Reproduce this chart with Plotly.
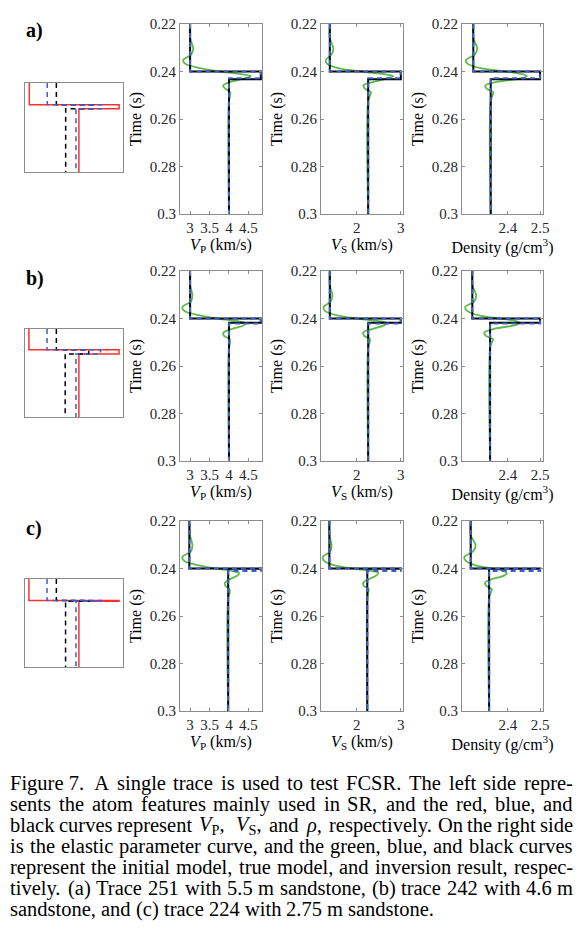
import re
import plotly.graph_objects as go

W, H = 588, 931

# ---- tick values / labels ----
time_ticks = [0.22, 0.24, 0.26, 0.28, 0.3]
time_labels = ["0.22", "0.24", "0.26", "0.28", "0.3"]
vp_ticks = [3, 3.5, 4, 4.5]
vp_labels = ["3", "3.5", "4", "4.5"]
vs_ticks = [2, 3]
vs_labels = ["2", "3"]
rho_ticks = [2.4, 2.5]
rho_labels = ["2.4", "2.5"]

row_labels = ["a)", "b)", "c)"]

# ---- true model (blue) and inversion result (black): thin sandstone layer ----
layer_top = 0.24
true_bottom = [0.2428, 0.2421, 0.2411]
inv_bottom = [0.2433, 0.2418, 0.2401]
vp_upper = [3.0, 3.0, 2.98]
vp_peak = [4.82, 4.82, 4.82]
vp_lower = [4.0, 4.0, 3.98]
vs_upper = [1.39, 1.39, 1.38]
vs_peak = [3.0, 3.0, 3.0]
vs_lower = [2.26, 2.26, 2.24]
rho_upper = [2.293, 2.29, 2.285]
rho_peak = [2.5, 2.5, 2.5]
rho_lower = [2.347, 2.345, 2.342]

# ---- initial model (green) ----
green_t = [0.22, 0.226, 0.2302, 0.2328, 0.2352, 0.2368, 0.2387, 0.2401, 0.2411,
           0.2419, 0.2429, 0.2443, 0.2459, 0.2473, 0.2487, 0.2502, 0.2525, 0.3]
green_vp = [
    [3.0, 3.0, 3.08, 3.03, 2.82, 2.88, 3.29, 3.80, 4.31, 4.56, 4.40, 4.06, 3.85, 3.91, 4.03, 4.03, 4.0, 4.0],
    [3.0, 3.0, 3.06, 3.02, 2.80, 2.85, 3.25, 3.75, 4.22, 4.42, 4.38, 4.10, 3.86, 3.87, 4.02, 4.03, 4.0, 4.0],
    [3.0, 3.0, 3.06, 3.02, 2.80, 2.85, 3.22, 3.70, 4.10, 4.26, 4.22, 4.05, 3.90, 3.91, 4.01, 4.02, 3.98, 3.98],
]
green_vs = [
    [1.39, 1.39, 1.47, 1.43, 1.30, 1.33, 1.60, 2.15, 2.62, 2.83, 2.70, 2.40, 2.15, 2.19, 2.32, 2.30, 2.26, 2.26],
    [1.39, 1.39, 1.45, 1.41, 1.25, 1.28, 1.55, 2.05, 2.50, 2.68, 2.62, 2.38, 2.15, 2.17, 2.30, 2.29, 2.26, 2.26],
    [1.38, 1.38, 1.43, 1.40, 1.23, 1.26, 1.50, 1.95, 2.35, 2.49, 2.45, 2.30, 2.15, 2.16, 2.27, 2.26, 2.24, 2.24],
]
green_rho = [
    [2.293, 2.293, 2.305, 2.298, 2.270, 2.276, 2.32, 2.40, 2.445, 2.459, 2.44, 2.37, 2.33, 2.335, 2.355, 2.352, 2.347, 2.347],
    [2.29, 2.29, 2.302, 2.296, 2.268, 2.274, 2.31, 2.38, 2.425, 2.438, 2.42, 2.36, 2.327, 2.332, 2.354, 2.35, 2.345, 2.345],
    [2.285, 2.285, 2.30, 2.292, 2.265, 2.27, 2.30, 2.355, 2.39, 2.397, 2.39, 2.355, 2.33, 2.333, 2.35, 2.347, 2.342, 2.342],
]

# ---- atom features (normalised units, 0..100) ----
atom_top = [24.3, 23.7, 24.4]
atom_bottom = [28.8, 28.3, 25.4]
atom_vp = [[4.4, 96, 55], [4, 96, 55], [4, 96, 55]]
atom_vs = [[22.7, 79, 52], [22.5, 77, 52], [22.5, 78, 52]]
atom_rho = [[32, 70, 41.5], [32, 65, 41], [32, 66, 41.4]]

caption_lines = [
    "Figure 7.  A single trace is used to test FCSR. The left side repre-",
    "sents the atom features mainly used in SR, and the red, blue, and",
    "black curves represent <i>V</i><sub>P</sub>, <i>V</i><sub>S</sub>, and <i>ρ</i>, respectively. On the right side",
    "is the elastic parameter curve, and the green, blue, and black curves",
    "represent the initial model, true model, and inversion result, respec-",
    "tively. (a) Trace 251 with 5.5 m sandstone, (b) trace 242 with 4.6 m",
    "sandstone, and (c) trace 224 with 2.75 m sandstone.",
]

# ---- layout in pixels ----
FONT = "Liberation Serif"
GREEN = "#5cbb48"
BLUE = "#3a5fcd"
RED = "#ff3030"
FRAME = "#8c8c8c"
TXT = "#262626"
CAP_SIZE = 20.5
CAP_LEFT, CAP_RIGHT = 10, 573

col_px = {"atom": (25, 123), "vp": (180, 262), "vs": (321, 403), "rho": (462, 543)}
row_px = [(24, 214), (271, 461), (521, 711)]
atom_row_px = [(83, 172), (329, 417), (579, 667)]

x_ranges = {"vp": [2.74, 4.85], "vs": [1.19, 3.05], "rho": [2.258, 2.509]}
x_ticks = {"vp": (vp_ticks, vp_labels), "vs": (vs_ticks, vs_labels), "rho": (rho_ticks, rho_labels)}
x_titles = {"vp": "<i>V</i><sub>P</sub> (km/s)", "vs": "<i>V</i><sub>S</sub> (km/s)",
            "rho": "Density (g/cm<sup>3</sup>)"}

# Times-compatible advance widths (1/1000 em) for justifying the caption
_w = {" ": 250, ".": 250, ",": 250, "-": 333, "(": 333, ")": 333, "ρ": 500,
      "f": 333, "r": 333, "t": 278, "i": 278, "l": 278, "j": 278, "s": 389,
      "a": 444, "c": 444, "e": 444, "z": 444, "w": 722, "m": 778,
      "A": 722, "C": 667, "F": 556, "O": 722, "P": 556, "R": 667, "S": 556, "T": 611, "V": 611}
ITALIC_PAD = 300


def text_width(s, size):
    total = 0.0
    for m in re.finditer(r"<sub>(.*?)</sub>|<[^>]+>|([^<])", s):
        if m.group(1) is not None:
            total += sum(_w.get(ch, 500) for ch in m.group(1)) * 0.7
        elif m.group(2) is not None:
            total += _w.get(m.group(2), 500)
    if "<i>" in s:
        total += ITALIC_PAD  # italic overhang / subscript spacing
    return total * size / 1000.0


def step(top, bottom, upper, peak, lower, y0, y1):
    return [upper, upper, peak, peak, lower, lower], [y0, top, top, bottom, bottom, y1]


def xdom(c):
    a, b = col_px[c]
    return [a / W, b / W]


def ydom(p):
    a, b = p
    return [1 - b / H, 1 - a / H]


fig = go.Figure()
layout = {}
n = 0
for r in range(3):
    # atom panel
    n += 1
    xa, ya = f"x{n}", f"y{n}"
    key = "" if n == 1 else str(n)
    for vals, color, dash in [(atom_vp[r], RED, "solid"), (atom_rho[r], "black", "5px,4px"),
                              (atom_vs[r], BLUE, "5px,4px")]:
        xs, ys = step(atom_top[r], atom_bottom[r], vals[0], vals[1], vals[2], 0, 100)
        fig.add_trace(go.Scatter(x=xs, y=ys, mode="lines", xaxis=xa, yaxis=ya, showlegend=False,
                                 line=dict(color=color, width=1.5, dash=dash), hoverinfo="skip"))
    layout["xaxis" + key] = dict(domain=xdom("atom"), anchor=ya, range=[0, 100], showticklabels=False,
                                 ticks="", showgrid=False, zeroline=False, showline=True, mirror=True,
                                 linecolor=FRAME, linewidth=1, automargin=False)
    layout["yaxis" + key] = dict(domain=ydom(atom_row_px[r]), anchor=xa, range=[100, 0], showticklabels=False,
                                 ticks="", showgrid=False, zeroline=False, showline=True, mirror=True,
                                 linecolor=FRAME, linewidth=1, automargin=False)

    params = [("vp", green_vp[r], vp_upper[r], vp_peak[r], vp_lower[r]),
              ("vs", green_vs[r], vs_upper[r], vs_peak[r], vs_lower[r]),
              ("rho", green_rho[r], rho_upper[r], rho_peak[r], rho_lower[r])]
    for c, g, up, pk, lo in params:
        n += 1
        xa, ya = f"x{n}", f"y{n}"
        key = str(n)
        fig.add_trace(go.Scatter(x=g, y=green_t, mode="lines", xaxis=xa, yaxis=ya, showlegend=False,
                                 line=dict(color=GREEN, width=1.8, shape="spline", smoothing=1.0),
                                 hoverinfo="skip"))
        xs, ys = step(layer_top, inv_bottom[r], up, pk, lo, 0.22, 0.3)
        fig.add_trace(go.Scatter(x=xs, y=ys, mode="lines", xaxis=xa, yaxis=ya, showlegend=False,
                                 line=dict(color="black", width=2), hoverinfo="skip"))
        xs, ys = step(layer_top, true_bottom[r], up, pk, lo, 0.22, 0.3)
        fig.add_trace(go.Scatter(x=xs, y=ys, mode="lines", xaxis=xa, yaxis=ya, showlegend=False,
                                 line=dict(color=BLUE, width=2, dash="5px,4px"), hoverinfo="skip"))
        tv, tl = x_ticks[c]
        layout["xaxis" + key] = dict(domain=xdom(c), anchor=ya, range=x_ranges[c], tickvals=tv, ticktext=tl,
                                     ticks="inside", ticklen=3, tickcolor=FRAME, showgrid=False,
                                     zeroline=False, showline=True, mirror="allticks", linecolor=FRAME,
                                     linewidth=1, automargin=False,
                                     tickfont=dict(family=FONT, size=15, color=TXT),
                                     title=dict(text=x_titles[c], standoff=2,
                                                font=dict(family=FONT, size=16, color="black")))
        layout["yaxis" + key] = dict(domain=ydom(row_px[r]), anchor=xa, range=[0.3, 0.22],
                                     tickvals=time_ticks, ticktext=time_labels, ticks="inside", ticklen=3,
                                     tickcolor=FRAME, showgrid=False, zeroline=False, showline=True,
                                     mirror="allticks", linecolor=FRAME, linewidth=1, automargin=False,
                                     tickfont=dict(family=FONT, size=15, color=TXT),
                                     title=dict(text="Time (s)", standoff=4,
                                                font=dict(family=FONT, size=16, color="black")))

annotations = []
for r, lab in enumerate(row_labels):
    annotations.append(dict(text=f"<b>{lab}</b>", x=24 / W, y=1 - (row_px[r][0] + 7) / H, xref="paper",
                            yref="paper", xanchor="left", yanchor="middle", showarrow=False,
                            font=dict(family=FONT, size=20, color="black")))

# caption: justified lines, last line left aligned
for i, line in enumerate(caption_lines):
    yy = 1 - (783 + 21 * i) / H
    words = line.replace("Figure 7.  ", "Figure\u00a07.\u2002").split(" ")
    widths = [text_width(wd.replace("\u00a0", " ").replace("\u2002", "  "), CAP_SIZE) for wd in words]
    space = text_width(" ", CAP_SIZE)
    if i < len(caption_lines) - 1 and len(words) > 1:
        space = (CAP_RIGHT - CAP_LEFT - sum(widths)) / (len(words) - 1)
    x = CAP_LEFT
    for wd, wdt in zip(words, widths):
        # italic words: centre the text inside its padded slot
        if "<i>" in wd:
            ann = dict(x=(x + wdt / 2) / W, xanchor="center")
        else:
            ann = dict(x=x / W, xanchor="left")
        annotations.append(dict(text=wd, y=yy, xref="paper", yref="paper",
                                yanchor="middle", showarrow=False, borderpad=0, borderwidth=0,
                                font=dict(family=FONT, size=CAP_SIZE, color="black"), **ann))
        x += wdt + space

fig.update_layout(width=W, height=H, autosize=False, margin=dict(l=0, r=0, t=0, b=0, pad=0),
                  paper_bgcolor="white", plot_bgcolor="white", annotations=annotations, **layout)

fig.write_html("out.html", config={"displayModeBar": False},
               post_script="document.body.style.margin='0px';")
